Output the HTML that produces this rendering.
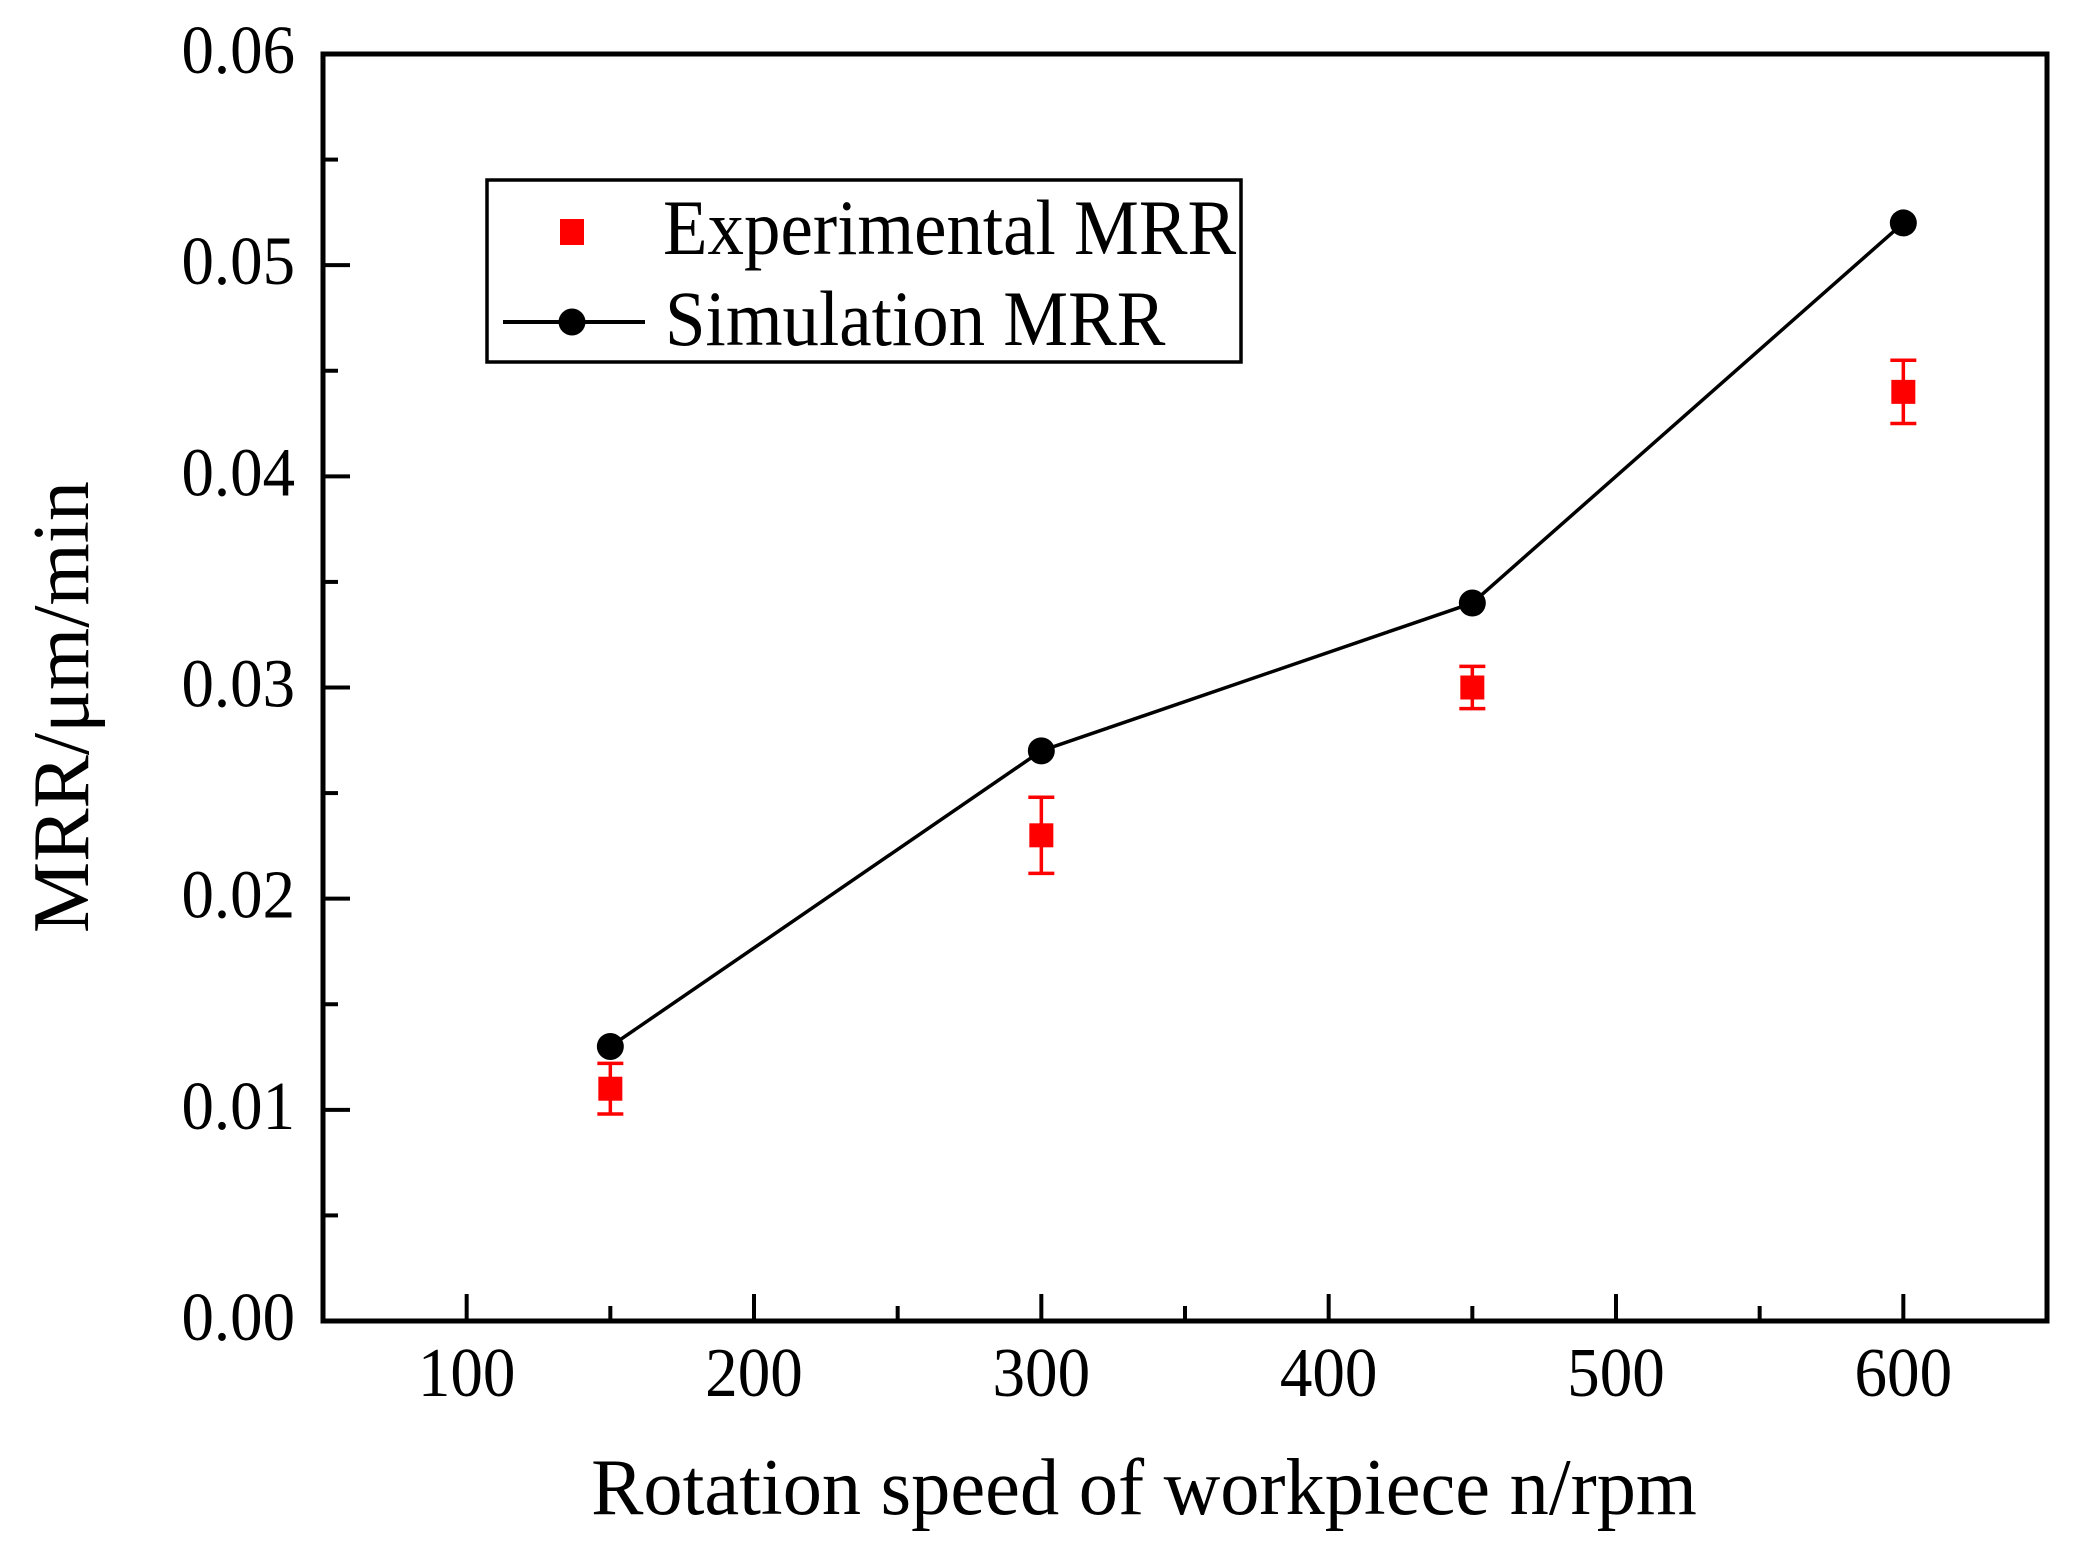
<!DOCTYPE html>
<html><head><meta charset="utf-8"><style>
html,body{margin:0;padding:0;background:#fff;}
svg{display:block;font-family:"Liberation Serif",serif;}
</style></head><body>
<svg id="chart" width="2082" height="1545" viewBox="0 0 2082 1545" xmlns="http://www.w3.org/2000/svg">
<g id="plot"></g>
</svg>
<script>
const categories=[150,300,450,600];
const expValues=[0.011,0.023,0.030,0.044];
const expErrors=[0.0012,0.0018,0.001,0.0015];
const simValues=[0.013,0.027,0.034,0.052];
const xTicks=[100,200,300,400,500,600];
const xMinor=[150,250,350,450,550];
const yTicks=[0,0.01,0.02,0.03,0.04,0.05,0.06];
const yTickLabels=["0.00","0.01","0.02","0.03","0.04","0.05","0.06"];
const yMinor=[0.005,0.015,0.025,0.035,0.045,0.055];

const L=323,R=2047,T=54,B=1321;
const xMin=50,xMax=650,yMin=0,yMax=0.06;
const xs=v=>L+(v-xMin)/(xMax-xMin)*(R-L);
const ys=v=>B-(v-yMin)/(yMax-yMin)*(B-T);
const NS="http://www.w3.org/2000/svg";
const g=document.getElementById('plot');
function mk(tag,attrs,parent){const e=document.createElementNS(NS,tag);for(const k in attrs)e.setAttribute(k,attrs[k]);(parent||g).appendChild(e);return e;}
function txt(x,y,size,sx,anchor,s,parent){const e=mk('text',{x:0,y:0,'font-size':size,'text-anchor':anchor,transform:`translate(${x},${y}) scale(${sx},1)`},parent);e.textContent=s;return e;}

xTicks.forEach(v=>{
  let t=mk('line',{x1:xs(v),x2:xs(v),y1:B,y2:B-27,stroke:'#000','stroke-width':4});
  
  
  let lb=txt(xs(v),1396,70,0.93,'middle',String(v));
  
  
});
xMinor.forEach(v=>{
  let t=mk('line',{x1:xs(v),x2:xs(v),y1:B,y2:B-15,stroke:'#000','stroke-width':4});
  
  
});
yTicks.forEach((v,i)=>{
  let t=mk('line',{x1:L,x2:L+27,y1:ys(v),y2:ys(v),stroke:'#000','stroke-width':4});
  
  
  let lb=txt(295,ys(v)+19,69,0.94,'end',yTickLabels[i]);
  
  
});
yMinor.forEach(v=>{
  let t=mk('line',{x1:L,x2:L+15,y1:ys(v),y2:ys(v),stroke:'#000','stroke-width':4});
  
  
});

let fr=mk('rect',{x:L,y:T,width:R-L,height:B-T,fill:'none',stroke:'#000','stroke-width':5});



let pts=categories.map((c,i)=>xs(c)+','+ys(simValues[i])).join(' ');
let pl=mk('polyline',{points:pts,fill:'none',stroke:'#000','stroke-width':3.5});


categories.forEach((c,i)=>{
  let p=mk('circle',{cx:xs(c),cy:ys(simValues[i]),r:13.5,fill:'#000'});
  
  
});

categories.forEach((c,i)=>{
  const x=xs(c),y=ys(expValues[i]),yt=ys(expValues[i]+expErrors[i]),yb=ys(expValues[i]-expErrors[i]);
  let eb=mk('path',{d:`M${x},${yt}V${yb}M${x-13},${yt}H${x+13}M${x-13},${yb}H${x+13}`,stroke:'#f00','stroke-width':3.5,fill:'none'});
  
  
  let s=mk('rect',{x:x-12,y:y-12,width:24,height:24,fill:'#f00'});
  
  
});

let lg=mk('g',{});


mk('rect',{x:487,y:180,width:754,height:182,fill:'#fff',stroke:'#000','stroke-width':3.5},lg);
let le1=mk('g',{},lg);


mk('rect',{x:560,y:219,width:24,height:26,fill:'#f00'},le1);
txt(663,254,78,0.935,'start','Experimental MRR',le1);
let le2=mk('g',{},lg);


mk('line',{x1:503,x2:645,y1:322,y2:322,stroke:'#000','stroke-width':4},le2);
mk('circle',{cx:572,cy:322,r:13.5,fill:'#000'},le2);
txt(665,345,78,0.935,'start','Simulation MRR',le2);

let xt=txt(1144,1514,80,0.98,'middle','Rotation speed of workpiece n/rpm');


let yt=mk('text',{x:0,y:0,'font-size':80,'text-anchor':'middle',transform:'translate(88,707) rotate(-90)'});
yt.textContent='MRR/\u03bcm/min';


</script>
</body></html>
